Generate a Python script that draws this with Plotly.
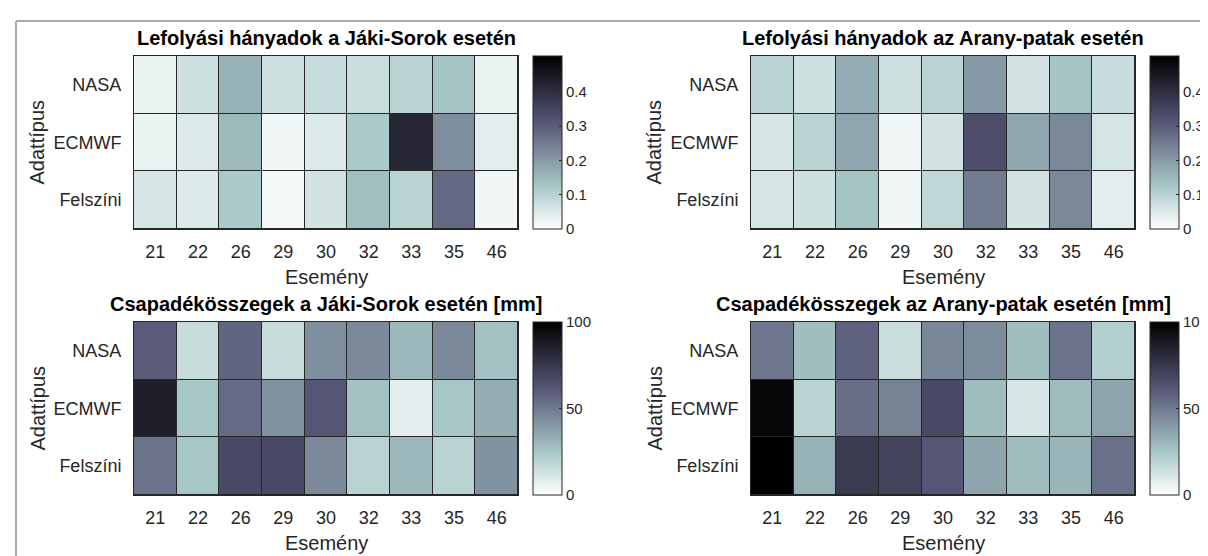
import plotly.graph_objects as go
import numpy as np

events = ["21", "22", "26", "29", "30", "32", "33", "35", "46"]
data_types = ["NASA", "ECMWF", "Felszíni"]

# Runoff coefficients – Jáki-Sorok
runoff_jaki_nasa = [0.03, 0.07, 0.16, 0.07, 0.08, 0.075, 0.10, 0.13, 0.03]
runoff_jaki_ecmwf = [0.03, 0.05, 0.15, 0.02, 0.05, 0.12, 0.42, 0.22, 0.04]
runoff_jaki_felszini = [0.06, 0.05, 0.12, 0.015, 0.065, 0.14, 0.10, 0.28, 0.02]

# Runoff coefficients – Arany-patak
runoff_arany_nasa = [0.10, 0.07, 0.17, 0.07, 0.10, 0.20, 0.065, 0.13, 0.08]
runoff_arany_ecmwf = [0.06, 0.10, 0.18, 0.02, 0.065, 0.33, 0.18, 0.23, 0.06]
runoff_arany_felszini = [0.06, 0.07, 0.13, 0.02, 0.09, 0.25, 0.065, 0.23, 0.04]

# Precipitation sums [mm] – Jáki-Sorok
precip_jaki_nasa = [60, 16, 57, 16, 43, 45, 30, 45, 27]
precip_jaki_ecmwf = [86, 25, 55, 42, 62, 27, 8, 25, 33]
precip_jaki_felszini = [52, 25, 67, 67, 45, 20, 30, 20, 42]

# Precipitation sums [mm] – Arany-patak
precip_arany_nasa = [51, 28, 58, 15, 46, 44, 28, 52, 22]
precip_arany_ecmwf = [97, 20, 54, 47, 67, 28, 12, 29, 36]
precip_arany_felszini = [100, 32, 74, 70, 62, 36, 28, 31, 53]

titles = [
    "Lefolyási hányadok a Jáki-Sorok esetén",
    "Lefolyási hányadok az Arany-patak esetén",
    "Csapadékösszegek a Jáki-Sorok esetén [mm]",
    "Csapadékösszegek az Arany-patak esetén [mm]",
]
x_title = "Esemény"
y_title = "Adattípus"

runoff_ticks = [0, 0.1, 0.2, 0.3, 0.4]
runoff_ticktext = ["0", "0.1", "0.2", "0.3", "0.4"]
precip_ticks = [0, 50, 100]

# ---- reversed MATLAB "bone" colormap ----
def bone(t):
    def ramp(t, a, b):
        return min(max((t - a) / (b - a), 0.0), 1.0)
    r = (7 * t + ramp(t, 0.75, 1.0)) / 8
    g = (7 * t + ramp(t, 0.375, 0.75)) / 8
    b = (7 * t + ramp(t, 0.0, 0.375)) / 8
    return r, g, b

stops = np.linspace(0, 1, 33)
colorscale = []
for p in stops:
    r, g, b = bone(1 - p)
    colorscale.append([float(p), f"rgb({round(r*255)},{round(g*255)},{round(b*255)})"])

W, H = 1208, 556
def fx(px):
    return px / W
def fy(py):
    return 1 - py / H

TXT = "rgb(38,38,38)"
FONT = "Liberation Sans, Arial, sans-serif"

panels = [
    dict(z=[runoff_jaki_nasa, runoff_jaki_ecmwf, runoff_jaki_felszini], x0=126, y0=48,
         cbx=525, zmax=0.505, tv=runoff_ticks, tt=runoff_ticktext),
    dict(z=[runoff_arany_nasa, runoff_arany_ecmwf, runoff_arany_felszini], x0=743, y0=48,
         cbx=1142, zmax=0.505, tv=runoff_ticks, tt=runoff_ticktext),
    dict(z=[precip_jaki_nasa, precip_jaki_ecmwf, precip_jaki_felszini], x0=126, y0=314,
         cbx=525, zmax=100, tv=precip_ticks, tt=[str(v) for v in precip_ticks]),
    dict(z=[precip_arany_nasa, precip_arany_ecmwf, precip_arany_felszini], x0=743, y0=314,
         cbx=1142, zmax=100, tv=precip_ticks, tt=[str(v) for v in precip_ticks]),
]
PW, PH = 384, 173

fig = go.Figure()
annotations = []
for i, p in enumerate(panels):
    n = i + 1
    xa = "x" if n == 1 else f"x{n}"
    ya = "y" if n == 1 else f"y{n}"
    x0, y0 = p["x0"], p["y0"]
    fig.add_trace(go.Heatmap(
        z=p["z"], x=events, y=data_types, xaxis=xa, yaxis=ya,
        colorscale=colorscale, zmin=0, zmax=p["zmax"],
        xgap=1, ygap=1, hoverinfo="skip",
        colorbar=dict(
            x=fx(p["cbx"]), xanchor="left", xpad=0, ypad=0,
            y=fy(y0 + PH / 2), yanchor="middle",
            len=PH / H, lenmode="fraction",
            thickness=29, thicknessmode="pixels",
            outlinewidth=1, outlinecolor=TXT,
            tickvals=p["tv"], ticktext=p["tt"],
            ticks="inside", ticklen=3, tickcolor=TXT,
            tickfont=dict(family=FONT, size=15, color=TXT),
        ),
    ))
    xkey = "xaxis" if n == 1 else f"xaxis{n}"
    ykey = "yaxis" if n == 1 else f"yaxis{n}"
    fig.update_layout(**{
        xkey: dict(domain=[fx(x0), fx(x0 + PW)], anchor=ya, type="category",
                   categoryorder="array", categoryarray=events,
                   showgrid=False, zeroline=False, showline=True, mirror=True,
                   linecolor=TXT, linewidth=1, ticks="", ticklabelstandoff=6,
                   tickfont=dict(family=FONT, size=18, color=TXT)),
        ykey: dict(domain=[fy(y0 + PH), fy(y0)], anchor=xa, type="category",
                   categoryorder="array", categoryarray=data_types, autorange="reversed",
                   showgrid=False, zeroline=False, showline=True, mirror=True,
                   linecolor=TXT, linewidth=1, ticks="", ticklabelstandoff=8,
                   tickfont=dict(family=FONT, size=18, color=TXT)),
    })
    # title
    annotations.append(dict(text=f"<b>{titles[i]}</b>", x=fx(x0 + PW / 2), y=fy(y0 - 18),
                            xref="paper", yref="paper", xanchor="center", yanchor="middle",
                            showarrow=False, font=dict(family=FONT, size=20, color="black")))
    # x axis title
    annotations.append(dict(text=x_title, x=fx(x0 + PW / 2), y=fy(y0 + PH + 48),
                            xref="paper", yref="paper", xanchor="center", yanchor="middle",
                            showarrow=False, font=dict(family=FONT, size=20, color=TXT)))
    # y axis title
    annotations.append(dict(text=y_title, x=fx(x0 - 97), y=fy(y0 + PH / 2), textangle=-90,
                            xref="paper", yref="paper", xanchor="center", yanchor="middle",
                            showarrow=False, font=dict(family=FONT, size=20, color=TXT)))

shapes = [
    dict(type="line", xref="paper", yref="paper", x0=fx(8), x1=1.0, y0=fy(13), y1=fy(13),
         line=dict(color="rgb(170,170,170)", width=2)),
    dict(type="line", xref="paper", yref="paper", x0=fx(8), x1=fx(8), y0=fy(13), y1=0.0,
         line=dict(color="rgb(170,170,170)", width=2)),
]

fig.update_layout(
    width=W, height=H, margin=dict(l=0, r=0, t=0, b=0),
    paper_bgcolor="white", plot_bgcolor=TXT,
    annotations=annotations, shapes=shapes, showlegend=False,
)

fig.write_html("out.html")
